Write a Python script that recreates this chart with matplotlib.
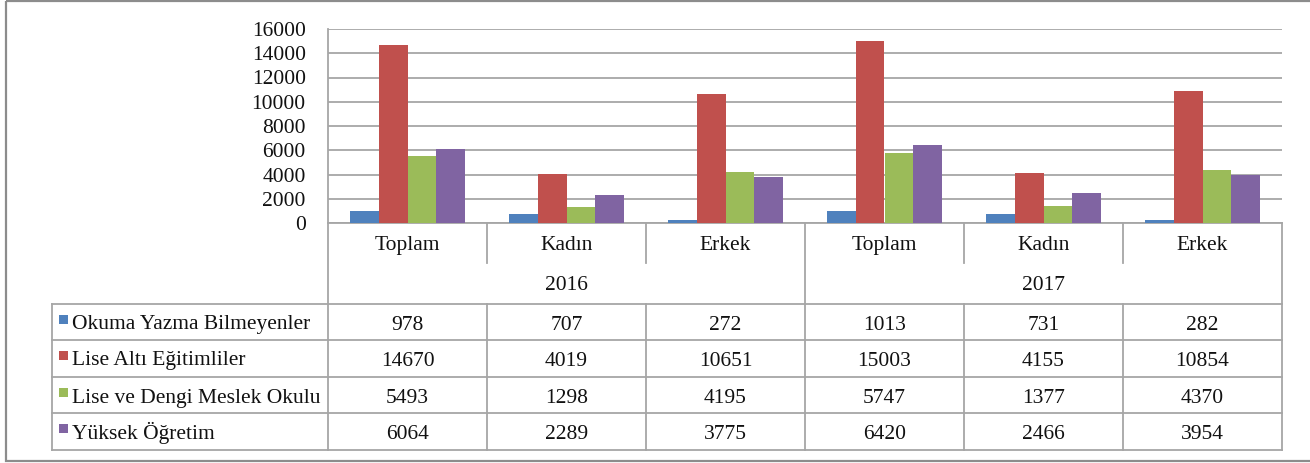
import matplotlib
matplotlib.use("Agg")
import matplotlib.pyplot as plt
from matplotlib.patches import Rectangle
import numpy as np

# ---- data ----
years = ["2016", "2017"]
groups = ["Toplam", "Kadın", "Erkek"]
categories = groups * len(years)
series_names = ["Okuma Yazma Bilmeyenler", "Lise Altı Eğitimliler",
                "Lise ve Dengi Meslek Okulu", "Yüksek Öğretim"]
okuma_yazma = [978, 707, 272, 1013, 731, 282]
lise_alti = [14670, 4019, 10651, 15003, 4155, 10854]
lise_dengi = [5493, 1298, 4195, 5747, 1377, 4370]
yuksek = [6064, 2289, 3775, 6420, 2466, 3954]
series = [okuma_yazma, lise_alti, lise_dengi, yuksek]
colors = ['#4F81BD', '#C0504D', '#9BBB59', '#8064A2']

W, H = 1310, 463
GRID = '#a6a6a6'
TXT = '#111111'
FS = 15.5

plt.rcParams['font.family'] = ['Liberation Serif', 'DejaVu Serif']
fig = plt.figure(figsize=(W / 100, H / 100), dpi=100)

# plot area in figure pixels
px0, px1, py0, py1 = 328, 1282, 29, 223
ax = fig.add_axes([px0 / W, 1 - py1 / H, (px1 - px0) / W, (py1 - py0) / H])

# overlay in pixel coordinates for the data table and frame
ov = fig.add_axes([0, 0, 1, 1], facecolor='none')
ov.set_xlim(0, W)
ov.set_ylim(H, 0)
ov.axis('off')

x = np.arange(len(categories))
bw = 0.182
for k, (vals, c) in enumerate(zip(series, colors)):
    ax.bar(x + (k - 1.5) * bw, vals, bw, color=c, edgecolor='none', zorder=3)

ax.set_xlim(-0.5, len(categories) - 0.5)
ax.set_ylim(0, 16000)
ax.set_yticks(np.arange(0, 16001, 2000))
ax.set_xticks([])
ax.tick_params(axis='y', length=0, pad=16, labelsize=FS, colors=TXT)
ax.yaxis.grid(True, color=GRID, linewidth=1.3, zorder=0)
for s in ['top', 'right']:
    ax.spines[s].set_visible(False)
for s in ['left', 'bottom']:
    ax.spines[s].set_color(GRID)
    ax.spines[s].set_linewidth(1.3)

# category centres / boundaries in pixels, taken from the bar axis scale
def xpix(v):
    return ax.transData.transform((v, 0))[0]

centers = [xpix(i) for i in x]
bounds = [xpix(i + 0.5) for i in x[:-1]]

lkw = dict(color=GRID, linewidth=1.3)
tab_left = 52
rows_y = [304, 340, 377, 413, 450]

# axis header lines
ov.plot([px0, px0], [py1, rows_y[-1]], **lkw)
ov.plot([px1, px1], [py1, rows_y[-1]], **lkw)
for j, b in enumerate(bounds):
    if (j + 1) % len(groups) == 0:
        ov.plot([b, b], [py1, rows_y[-1]], **lkw)
    else:
        ov.plot([b, b], [py1, 263], **lkw)
        ov.plot([b, b], [rows_y[0], rows_y[-1]], **lkw)
ov.plot([tab_left, tab_left], [rows_y[0], rows_y[-1]], **lkw)
for yy in rows_y:
    ov.plot([tab_left, px1], [yy, yy], **lkw)

# category and year labels
for cx, lab in zip(centers, categories):
    ov.text(cx, 250, lab, ha='center', va='baseline', fontsize=FS, color=TXT)
for yi, yr in enumerate(years):
    yc = np.mean(centers[yi * len(groups):(yi + 1) * len(groups)])
    ov.text(yc, 290, yr, ha='center', va='baseline', fontsize=FS, color=TXT)

# table body
for r, (name, vals, c) in enumerate(zip(series_names, series, colors)):
    top = rows_y[r]
    ov.add_patch(Rectangle((59, top + 11), 9, 9, facecolor=c, edgecolor='none'))
    ov.text(72, top + 25.5, name, ha='left', va='baseline', fontsize=FS, color=TXT)
    for cx, v in zip(centers, vals):
        ov.text(cx, top + 26, str(v), ha='center', va='baseline', fontsize=FS, color=TXT)

# outer chart frame
ov.add_patch(Rectangle((6, 1), W + 50, 460, fill=False, edgecolor='#8c8c8c', linewidth=1.6))

fig.savefig('out.png', dpi=100)
